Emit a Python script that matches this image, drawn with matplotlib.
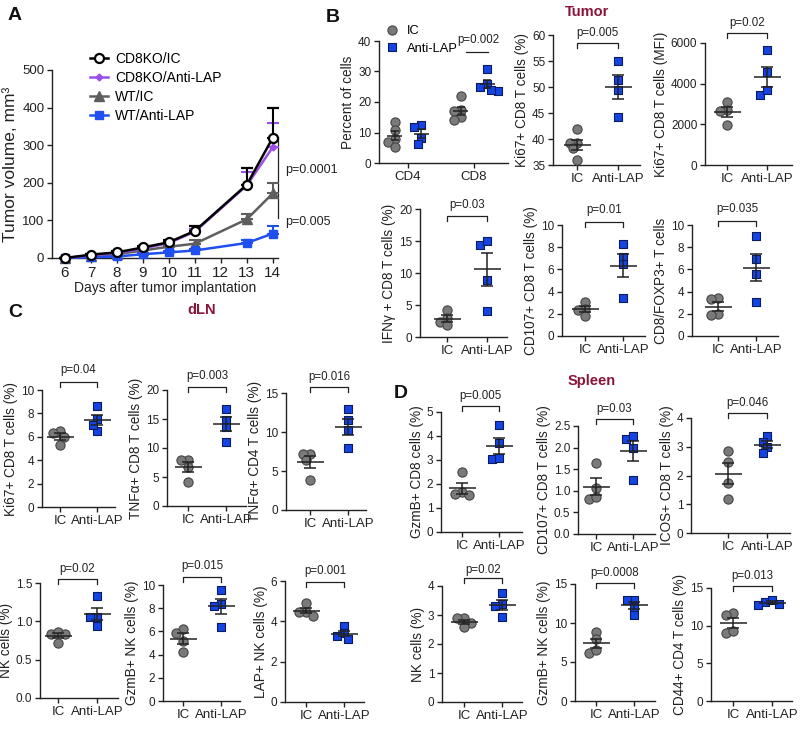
import numpy as np
import matplotlib
matplotlib.use('Agg')
import matplotlib.pyplot as plt
from matplotlib.lines import Line2D
from matplotlib.ticker import FormatStrFormatter
import matplotlib.transforms as mtransforms

plt.rcParams['font.family'] = ['Liberation Sans', 'DejaVu Sans']
plt.rcParams['axes.unicode_minus'] = False

# ---------------- DATA ----------------
# Panel A: tumor growth
days = [6, 7, 8, 9, 10, 11, 13, 14]
day_ticks = [6, 7, 8, 9, 10, 11, 12, 13, 14]
a_labels = ['CD8KO/IC', 'CD8KO/Anti-LAP', 'WT/IC', 'WT/Anti-LAP']
ko_ic = [0, 9, 15, 28, 42, 72, 195, 320]
ko_ic_err = [0, 2, 3, 4, 5, 13, 45, 80]
ko_lap = [0, 7, 13, 25, 40, 70, 193, 295]
ko_lap_err = [0, 2, 3, 3, 4, 8, 35, 63]
wt_ic = [0, 5, 10, 20, 30, 38, 103, 172]
wt_ic_err = [0, 1, 2, 3, 5, 10, 14, 28]
wt_lap = [0, 2, 4, 10, 15, 20, 40, 65]
wt_lap_err = [0, 1, 1, 2, 3, 4, 8, 20]
a_pvals = ['p=0.0001', 'p=0.005']

group_labels = ['IC', 'Anti-LAP']

# Panel B: Tumor
b_pct_groups = ['CD4', 'CD8']
b_cd4_ic = [13.5, 10.8, 8.0, 7.0, 5.3]
b_cd4_lap = [12.5, 11.7, 8.1, 6.2]
b_cd8_ic = [22.0, 17.4, 17.1, 15.2, 14.1]
b_cd8_lap = [30.8, 25.8, 24.8, 23.7, 24.0]
b_ki67_ic = [42.0, 39.2, 39.2, 38.2, 36.0]
b_ki67_lap = [55.0, 51.3, 49.4, 44.3]
b_mfi_ic = [3110, 2700, 2650, 1970]
b_mfi_lap = [5650, 4590, 3440, 3690]
b_ifng_ic = [4.2, 3.0, 2.4, 1.9]
b_ifng_lap = [14.3, 15.0, 8.9, 4.0]
b_cd107_ic = [3.1, 2.4, 2.3, 1.8]
b_cd107_lap = [8.3, 7.1, 6.5, 3.4]
b_foxp3_ic = [3.4, 3.3, 2.0, 1.9]
b_foxp3_lap = [9.0, 6.9, 5.6, 3.1]

# Panel C: dLN
c_ki67_ic = [6.5, 6.0, 6.3, 5.3]
c_ki67_lap = [8.65, 6.5, 7.5, 7.05]
c_tnf8_ic = [7.9, 7.9, 6.7, 4.2]
c_tnf8_lap = [16.8, 14.8, 13.7, 11.1]
c_tnf4_ic = [7.2, 7.2, 6.4, 3.9]
c_tnf4_lap = [13.0, 11.5, 10.2, 7.9]
c_nk_ic = [0.84, 0.86, 0.83, 0.72]
c_nk_lap = [1.33, 1.06, 1.06, 0.94]
c_gzmb_ic = [6.2, 5.9, 5.2, 4.25]
c_gzmb_lap = [9.6, 8.4, 8.2, 6.4]
c_lapnk_ic = [4.9, 4.48, 4.48, 4.26]
c_lapnk_lap = [3.77, 3.4, 3.27, 3.12]

# Panel D: Spleen
d_gzmb8_ic = [2.51, 1.68, 1.54, 1.57]
d_gzmb8_lap = [4.46, 3.7, 3.03, 3.07]
d_cd107_ic = [1.65, 1.06, 0.80, 0.86]
d_cd107_lap = [2.19, 2.27, 2.0, 1.25]
d_icos_ic = [2.85, 2.48, 1.75, 1.17]
d_icos_lap = [3.38, 3.18, 2.98, 2.77]
d_nk_ic = [2.88, 2.88, 2.72, 2.6]
d_nk_lap = [3.77, 3.38, 3.31, 2.94]
d_gzmbnk_ic = [8.9, 7.9, 6.2, 6.5]
d_gzmbnk_lap = [13.0, 13.0, 12.1, 11.0]
d_cd44_ic = [11.65, 11.4, 9.07, 9.35]
d_cd44_lap = [13.2, 13.4, 12.9, 12.8]

# ---------------- STYLE / LAYOUT ----------------
W, H = 800, 729
fig = plt.figure(figsize=(W / 100, H / 100), dpi=100)
fig.patch.set_facecolor('white')

INK = '#222222'
GREY_FILL = '#7a7a7a'
GREY_EDGE = '#454545'
BLUE_FILL = '#1444e4'
BLUE_EDGE = '#0d1a5c'
TITLE_RED = '#8a1538'


def box(L, T, R, B):
    return [L / W, 1 - B / H, (R - L) / W, (B - T) / H]


def style(ax, fs):
    ax.spines['top'].set_visible(False)
    ax.spines['right'].set_visible(False)
    for s in ('left', 'bottom'):
        ax.spines[s].set_linewidth(1.0)
        ax.spines[s].set_color(INK)
    ax.tick_params(length=3.5, width=1.0, color=INK, labelcolor=INK,
                   labelsize=fs, pad=2)
    ax.set_facecolor('none')


def swarm(vals, ypu, xpu, diam=9.0):
    vals = np.asarray(vals, float)
    order = np.argsort(-vals)
    placed = []
    offs = np.zeros(len(vals))
    step = diam * 0.4
    cands = [0.0]
    for k in range(1, 12):
        cands += [-k * step, k * step]
    for i in order:
        y = vals[i] * ypu
        chosen = cands[-1]
        for c in cands:
            if all((c - px) ** 2 + (y - py) ** 2 >= (diam * 0.7) ** 2 for px, py in placed):
                chosen = c
                break
        placed.append((chosen, y))
        offs[i] = chosen / xpu
    return offs


def draw_group(ax, x0, vals, kind, xpu, ypu, hw_px=13.5, cw_px=6.0):
    vals = np.asarray(vals, float)
    offs = swarm(vals, ypu, xpu)
    if kind == 'ic':
        ax.scatter(x0 + offs, vals, s=44, marker='o', c=GREY_FILL,
                   edgecolors=GREY_EDGE, linewidths=0.8, zorder=3, clip_on=False)
    else:
        ax.scatter(x0 + offs, vals, s=36, marker='s', c=BLUE_FILL,
                   edgecolors=BLUE_EDGE, linewidths=0.8, zorder=3, clip_on=False)
    m = vals.mean()
    se = vals.std(ddof=1) / np.sqrt(len(vals))
    hw = hw_px / xpu
    cw = cw_px / xpu
    kw = dict(color=INK, lw=1.1, zorder=4, solid_capstyle='butt', clip_on=False)
    ax.plot([x0 - hw, x0 + hw], [m, m], **kw)
    ax.plot([x0, x0], [m - se, m + se], **kw)
    ax.plot([x0 - cw, x0 + cw], [m + se, m + se], **kw)
    ax.plot([x0 - cw, x0 + cw], [m - se, m - se], **kw)


def dot_panel(layout, ylim, yticks, ic_vals, lap_vals, ylabel, ptext, fmt=None):
    L, T, R, B, xic, xal, ybr, ytx = layout
    ax = fig.add_axes(box(L, T, R, B))
    style(ax, 8.5)
    xpu = xal - xic
    ax.set_xlim((L - xic) / xpu, 1 + (R - xal) / xpu)
    ax.set_ylim(*ylim)
    ypu = (B - T) / (ylim[1] - ylim[0])
    draw_group(ax, 0, ic_vals, 'ic', xpu, ypu)
    draw_group(ax, 1, lap_vals, 'lap', xpu, ypu)
    ax.set_xticks([0, 1])
    ax.set_xticklabels(group_labels, fontsize=9.5)
    ax.set_yticks(yticks)
    if fmt:
        ax.yaxis.set_major_formatter(FormatStrFormatter(fmt))
    ax.set_ylabel(ylabel, fontsize=9.8, labelpad=2, color=INK)

    def py(p):
        return ylim[0] + (B - p) / ypu
    y0 = py(ybr)
    y1 = py(ybr + 5)
    ax.plot([0, 0, 1, 1], [y1, y0, y0, y1], color=INK, lw=0.9, clip_on=False)
    ax.text(0.5, py(ytx), ptext, ha='center', va='center', fontsize=8.3,
            color=INK, clip_on=False)
    return ax


# ---------------- PANEL A ----------------
axA = fig.add_axes(box(52, 70, 278, 258))
style(axA, 9.5)
axA.set_xlim(5.5, 14.2)
axA.set_ylim(0, 500)
axA.set_xticks(day_ticks)
axA.set_yticks([0, 100, 200, 300, 400, 500])
axA.tick_params(axis='x', labelsize=11)

a_series = [ko_ic, ko_lap, wt_ic, wt_lap]
a_errs = [ko_ic_err, ko_lap_err, wt_ic_err, wt_lap_err]
a_styles = [
    dict(color='#000000', marker='o', ms=6.5, mfc='white', mec='#000000', mew=1.6, zorder=6),
    dict(color='#9b4fe8', marker='D', ms=3.5, mfc='#9b4fe8', mec='#9b4fe8', zorder=5),
    dict(color='#5e5e5e', marker='^', ms=6.5, mfc='#5e5e5e', mec='#5e5e5e', zorder=4),
    dict(color='#1f4ff0', marker='s', ms=6, mfc='#1f4ff0', mec='#1f4ff0', zorder=4),
]
handles = []
for vals, err, lab, st in zip(a_series, a_errs, a_labels, a_styles):
    axA.errorbar(days, vals, yerr=[np.zeros(len(err)), err], lw=1.8,
                 capsize=4, elinewidth=1.5, capthick=1.5, clip_on=False, **st)
    h = Line2D([], [], lw=1.8, color=st['color'], marker=st['marker'], ms=st['ms'],
               mfc=st['mfc'], mec=st['mec'], mew=st.get('mew', 1.0))
    handles.append(h)
axA.legend(handles, a_labels, loc='upper left', bbox_to_anchor=(90 / W, 1 - 52 / H),
           bbox_transform=fig.transFigure, frameon=False, fontsize=10,
           labelspacing=0.35, handlelength=1.3, handletextpad=0.5,
           borderpad=0, borderaxespad=0)
axA.set_xlabel('Days after tumor implantation', fontsize=10, labelpad=1, color=INK)
axA.set_ylabel('Tumor volume, mm³', fontsize=12.5, labelpad=3, color=INK)

trA = mtransforms.blended_transform_factory(axA.transAxes, axA.transData)
a_p_spans = [(322, 175), (170, 106)]
a_p_text_y = [234, 96]
for (y0, y1), txt, ty in zip(a_p_spans, a_pvals, a_p_text_y):
    axA.plot([1.0, 1.0], [y0, y1], color=INK, lw=0.9, transform=trA, clip_on=False)
    axA.text(1.03, ty, txt, transform=trA, fontsize=9, va='center', ha='left', color=INK)

# ---------------- PANEL B ----------------
axB1 = fig.add_axes(box(379, 41, 508, 163))
style(axB1, 8.5)
b1_unit = 66.0
axB1.set_xlim(-(408 - 379) / b1_unit, 1 + (508 - 474) / b1_unit)
axB1.set_ylim(0, 40)
b1_ypu = 122 / 40
for g, (icv, lapv) in enumerate([(b_cd4_ic, b_cd4_lap), (b_cd8_ic, b_cd8_lap)]):
    draw_group(axB1, g - 0.2, icv, 'ic', b1_unit, b1_ypu, hw_px=7.5, cw_px=4)
    draw_group(axB1, g + 0.2, lapv, 'lap', b1_unit, b1_ypu, hw_px=7.5, cw_px=4)
axB1.set_xticks([0, 1])
axB1.set_xticklabels(b_pct_groups, fontsize=9.5)
axB1.set_yticks([0, 10, 20, 30, 40])
axB1.set_ylabel('Percent of cells', fontsize=9.8, labelpad=2, color=INK)
axB1.plot([(466 - 408) / b1_unit, (488 - 408) / b1_unit], [(163 - 52) / b1_ypu] * 2,
          color=INK, lw=0.9, clip_on=False)
axB1.text((478 - 408) / b1_unit, (163 - 40) / b1_ypu, 'p=0.002', ha='center', va='center',
          fontsize=8.3, color=INK, clip_on=False)
leg_h = [Line2D([], [], ls='', marker='o', ms=6.6, mfc=GREY_FILL, mec=GREY_EDGE, mew=0.8),
         Line2D([], [], ls='', marker='s', ms=6.0, mfc=BLUE_FILL, mec=BLUE_EDGE, mew=0.8)]
axB1.legend(leg_h, group_labels, loc='upper left', bbox_to_anchor=(386 / W, 1 - 25 / H),
            bbox_transform=fig.transFigure, frameon=False, fontsize=9.3,
            labelspacing=0.45, handlelength=1.0, handletextpad=0.6,
            borderpad=0, borderaxespad=0)

dot_panel((553, 35, 640, 165, 577, 618, 43, 33), (35, 60), [35, 40, 45, 50, 55, 60],
          b_ki67_ic, b_ki67_lap, 'Ki67+ CD8 T cells (%)', 'p=0.005')
dot_panel((705, 43, 792, 165, 727, 767, 33, 23), (0, 6000), [0, 2000, 4000, 6000],
          b_mfi_ic, b_mfi_lap, 'Ki67+ CD8 T cells (MFI)', 'p=0.02')
dot_panel((420, 209, 507, 337, 447, 487, 216, 205), (0, 20), [0, 5, 10, 15, 20],
          b_ifng_ic, b_ifng_lap, 'IFNγ + CD8 T cells (%)', 'p=0.03')
dot_panel((562, 225, 645, 336, 585, 623, 222, 210), (0, 10), [0, 2, 4, 6, 8, 10],
          b_cd107_ic, b_cd107_lap, 'CD107+ CD8 T cells (%)', 'p=0.01')
dot_panel((692, 225, 778, 336, 718, 756, 221, 209), (0, 10), [0, 2, 4, 6, 8, 10],
          b_foxp3_ic, b_foxp3_lap, 'CD8/FOXP3+ T cells', 'p=0.035')

# ---------------- PANEL C ----------------
dot_panel((42, 390, 115, 507, 60, 97, 382, 370), (0, 10), [0, 2, 4, 6, 8, 10],
          c_ki67_ic, c_ki67_lap, 'Ki67+ CD8 T cells (%)', 'p=0.04')
dot_panel((167, 390, 246, 506, 188, 226, 387, 376), (0, 20), [0, 5, 10, 15, 20],
          c_tnf8_ic, c_tnf8_lap, 'TNFα+ CD8 T cells (%)', 'p=0.003')
dot_panel((286, 393, 366, 510, 310, 348, 387, 377), (0, 15), [0, 5, 10, 15],
          c_tnf4_ic, c_tnf4_lap, 'TNFα+ CD4 T cells (%)', 'p=0.016')
dot_panel((40, 583, 118, 698, 58, 97, 579, 569), (0, 1.5), [0, 0.5, 1.0, 1.5],
          c_nk_ic, c_nk_lap, 'NK cells (%)', 'p=0.02', fmt='%.1f')
dot_panel((163, 585, 240, 701, 183, 221, 577, 566), (0, 10), [0, 2, 4, 6, 8, 10],
          c_gzmb_ic, c_gzmb_lap, 'GzmB+ NK cells (%)', 'p=0.015')
dot_panel((285, 581, 364, 702, 306, 344, 582, 571), (0, 6), [0, 2, 4, 6],
          c_lapnk_ic, c_lapnk_lap, 'LAP+ NK cells (%)', 'p=0.001')

# ---------------- PANEL D ----------------
dot_panel((441, 412, 522, 532, 462, 499, 406, 396), (0, 5), [0, 1, 2, 3, 4, 5],
          d_gzmb8_ic, d_gzmb8_lap, 'GzmB+ CD8 cells (%)', 'p=0.005')
dot_panel((578, 426, 655, 534, 596, 633, 419, 409), (0, 2.5), [0, 0.5, 1.0, 1.5, 2.0, 2.5],
          d_cd107_ic, d_cd107_lap, 'CD107+ CD8 T cells (%)', 'p=0.03', fmt='%.1f')
dot_panel((691, 418, 790, 533, 728, 767, 413, 403), (0, 4), [0, 1, 2, 3, 4],
          d_icos_ic, d_icos_lap, 'ICOS+ CD8 T cells (%)', 'p=0.046')
dot_panel((442, 586, 522, 702, 464, 502, 578, 570), (0, 4), [0, 1, 2, 3, 4],
          d_nk_ic, d_nk_lap, 'NK cells (%)', 'p=0.02')
dot_panel((575, 584, 655, 701, 596, 634, 583, 573), (0, 15), [0, 5, 10, 15],
          d_gzmbnk_ic, d_gzmbnk_lap, 'GzmB+ NK cells (%)', 'p=0.0008')
dot_panel((711, 588, 792, 701, 733, 772, 586, 576), (0, 15), [0, 5, 10, 15],
          d_cd44_ic, d_cd44_lap, 'CD44+ CD4 T cells (%)', 'p=0.013')

# ---------------- LABELS / TITLES ----------------
for letter, (x, y) in zip('ABCD', [(15, 15), (333, 17), (15, 312), (401, 393)]):
    fig.text(x / W, 1 - y / H, letter, ha='center', va='center', fontsize=14,
             fontweight='bold', color='#111111')
for title, (x, y) in zip(['Tumor', 'dLN', 'Spleen'], [(587, 12), (202, 310), (592, 381)]):
    fig.text(x / W, 1 - y / H, title, ha='center', va='center', fontsize=10.5,
             fontweight='bold', color=TITLE_RED)

fig.savefig('out.png', dpi=100, facecolor='white')
